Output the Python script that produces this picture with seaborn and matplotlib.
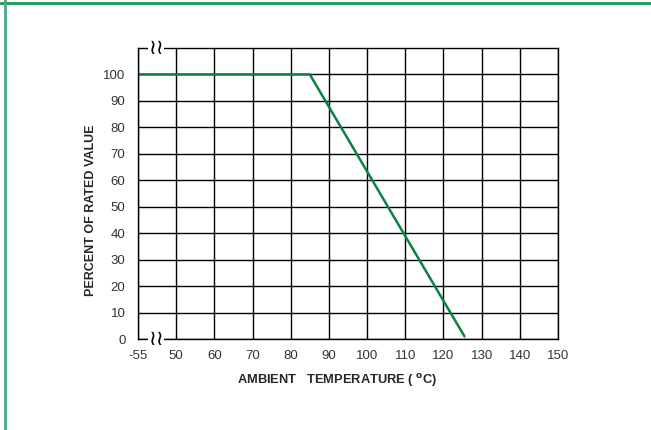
import numpy as np
import pandas as pd
import seaborn as sns
import matplotlib.pyplot as plt
from matplotlib.lines import Line2D

# derating curve: flat to 85 C then linear down to ~125 C
temps = [-55, 85, 125.5]
percent = [100, 100, 1]

x_tick_labels = ['-55', '50', '60', '70', '80', '90', '100', '110', '120', '130', '140', '150']
y_ticks = [0, 10, 20, 30, 40, 50, 60, 70, 80, 90, 100]


def temp_to_pos(t):
    # axis is broken between -55 and 50, so -55 sits one step left of 50
    return 0.0 if t <= -55 else 1 + (t - 50) / 10.0


sns.set_style("whitegrid")
plt.rcParams['font.family'] = ['Liberation Sans', 'DejaVu Sans']

df = pd.DataFrame({'pos': [temp_to_pos(t) for t in temps], 'pct': percent})

fig = plt.figure(figsize=(6.51, 4.3), dpi=100)
ax = fig.add_axes([138 / 651, 1 - 339 / 430, 420 / 651, 291 / 430])

sns.lineplot(data=df, x='pos', y='pct', color='#0e7f45', linewidth=1.8, ax=ax)

ax.set_xlim(0, 11)
ax.set_ylim(0, 110)
ax.set_xticks(range(len(x_tick_labels)))
ax.set_xticklabels(x_tick_labels, fontsize=9.5)
ax.set_yticks(y_ticks)
ax.set_yticklabels([str(v) for v in y_ticks], fontsize=9.5)
ax.tick_params(axis='x', length=0, pad=8, colors='#333333')
ax.tick_params(axis='y', length=0, pad=9, colors='#333333')
ax.grid(True, color='black', linewidth=1.0)
for s in ax.spines.values():
    s.set_color('black')
    s.set_linewidth(1.0)

ax.set_xlabel('AMBIENT   TEMPERATURE ( $^{\\mathbf{o}}$C)', fontsize=9.3, fontweight='bold')
ax.set_ylabel('PERCENT OF RATED VALUE', fontsize=9, fontweight='bold')
ax.xaxis.set_label_coords(0.474, -0.113)
ax.yaxis.set_label_coords(-0.098, 0.443)

# axis break marks on top and bottom edges
for yb in (110, 0):
    ax.text(0.48, yb, '\u2240\u2240', ha='center', va='center', fontsize=15,
            family='DejaVu Sans', color='black', clip_on=False,
            bbox=dict(boxstyle='square,pad=0.0', fc='white', ec='none'))

# green frame lines on top and left of the figure
fig.add_artist(Line2D([0, 1], [1 - 2.5 / 430] * 2, transform=fig.transFigure, color='#1a9a5c', linewidth=2))
fig.add_artist(Line2D([4.5 / 651] * 2, [0, 1], transform=fig.transFigure, color='#4aa985', linewidth=2))

fig.savefig('out.png', dpi=100)
